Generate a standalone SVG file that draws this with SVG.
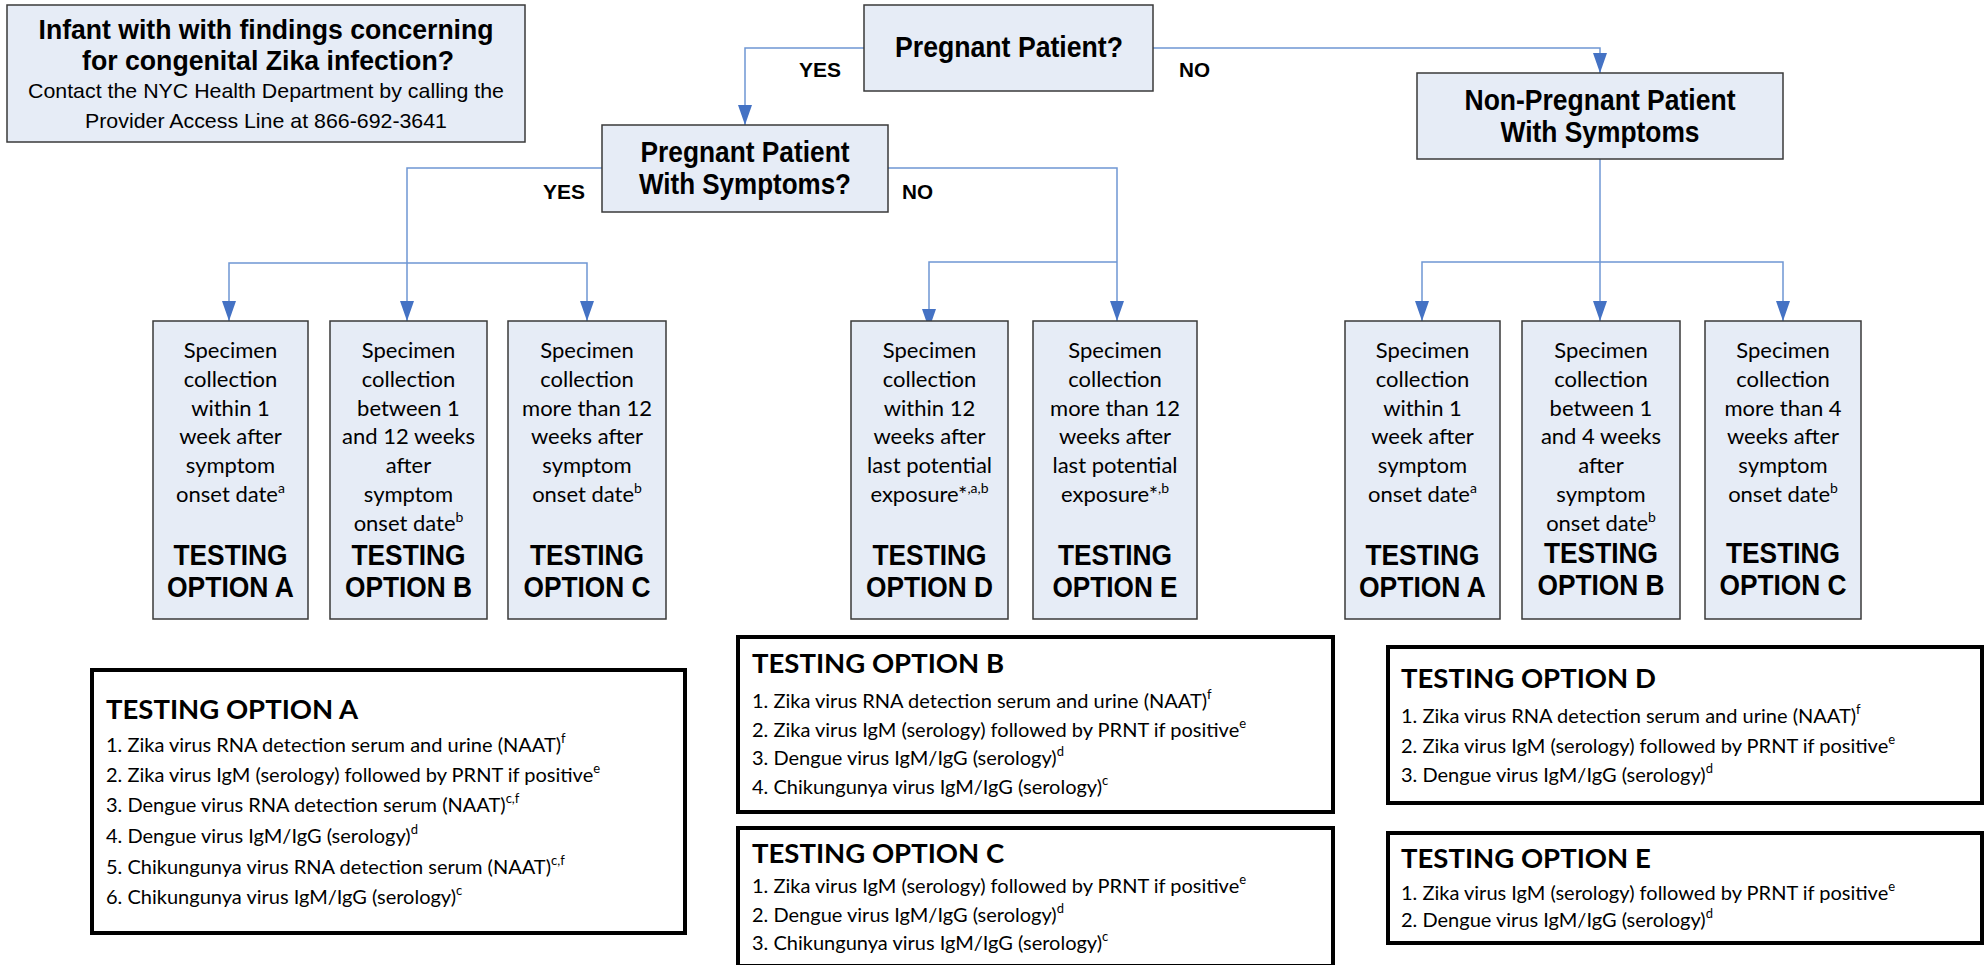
<svg xmlns="http://www.w3.org/2000/svg" width="1986" height="965" viewBox="0 0 1986 965">
<style>
.node{fill:#e6ecf6;stroke:#3a3a3a;stroke-width:1.5}
.list{fill:#ffffff;stroke:#000000;stroke-width:4}
.hb{font-family:"Liberation Sans Narrow","Liberation Sans",Arial,sans-serif;font-weight:bold;fill:#000;text-anchor:middle}
.hn{font-family:"Liberation Sans Narrow","Liberation Sans",Arial,sans-serif;fill:#000;text-anchor:middle}
.lbl{font-family:"Liberation Sans Narrow","Liberation Sans",Arial,sans-serif;font-weight:bold;font-size:21px;fill:#000}
.sp{font-family:Lato,"Open Sans",sans-serif;font-size:22px;fill:#000;text-anchor:middle}
.opt{font-family:"Liberation Sans Narrow","Liberation Sans",Arial,sans-serif;font-weight:bold;font-size:29px;fill:#000;text-anchor:middle}
.lh{font-family:Lato,"Open Sans",sans-serif;font-weight:bold;font-size:27.5px;fill:#000}
.li{font-family:Lato,"Open Sans",sans-serif;font-size:20px;fill:#000}
.conn{fill:none;stroke:#6f97d4;stroke-width:1.5}
</style>
<defs>
<marker id="arr" markerUnits="userSpaceOnUse" markerWidth="20" markerHeight="14" refX="20" refY="7" orient="auto">
<path d="M0,0 L20,7 L0,14 z" fill="#4472c4"/>
</marker>
</defs>

<g id="connectors">
<path class="conn" d="M864,48 H745 V125" marker-end="url(#arr)"/>
<path class="conn" d="M1153,48 H1600 V73" marker-end="url(#arr)"/>
<path class="conn" d="M602,168 H407 V321" marker-end="url(#arr)"/>
<path class="conn" d="M407,263 H229 V321" marker-end="url(#arr)"/>
<path class="conn" d="M407,263 H587 V321" marker-end="url(#arr)"/>
<path class="conn" d="M888,168 H1117 V321" marker-end="url(#arr)"/>
<path class="conn" d="M1117,262 H929 V329" marker-end="url(#arr)"/>
<path class="conn" d="M1600,159 V321" marker-end="url(#arr)"/>
<path class="conn" d="M1600,262 H1422 V321" marker-end="url(#arr)"/>
<path class="conn" d="M1600,262 H1783 V321" marker-end="url(#arr)"/>
</g>

<g id="labels">
<text class="lbl" x="799" y="77" textLength="42" lengthAdjust="spacingAndGlyphs">YES</text>
<text class="lbl" x="1179" y="77" textLength="31" lengthAdjust="spacingAndGlyphs">NO</text>
<text class="lbl" x="543" y="199" textLength="42" lengthAdjust="spacingAndGlyphs">YES</text>
<text class="lbl" x="902" y="199" textLength="31" lengthAdjust="spacingAndGlyphs">NO</text>
</g>

<g id="infant">
<rect class="node" x="7" y="5" width="518" height="137"/>
<text class="hb" x="266" y="39" font-size="28" textLength="455" lengthAdjust="spacingAndGlyphs">Infant with with findings concerning</text>
<text class="hb" x="268" y="70" font-size="28" textLength="372" lengthAdjust="spacingAndGlyphs">for congenital Zika infection?</text>
<text class="hn" x="266" y="98" font-size="21" textLength="476" lengthAdjust="spacingAndGlyphs">Contact the NYC Health Department by calling the</text>
<text class="hn" x="266" y="128" font-size="21" textLength="362" lengthAdjust="spacingAndGlyphs">Provider Access Line at 866-692-3641</text>
</g>

<g id="pregnant">
<rect class="node" x="864" y="5" width="289" height="86"/>
<text class="hb" x="1009" y="57" font-size="30" textLength="228" lengthAdjust="spacingAndGlyphs">Pregnant Patient?</text>
</g>

<g id="pregnant-symptoms">
<rect class="node" x="602" y="125" width="286" height="87"/>
<text class="hb" x="745" y="162" font-size="30" textLength="209" lengthAdjust="spacingAndGlyphs">Pregnant Patient</text>
<text class="hb" x="745" y="194" font-size="30" textLength="212" lengthAdjust="spacingAndGlyphs">With Symptoms?</text>
</g>

<g id="nonpregnant">
<rect class="node" x="1417" y="73" width="366" height="86"/>
<text class="hb" x="1600" y="110" font-size="30" textLength="271" lengthAdjust="spacingAndGlyphs">Non-Pregnant Patient</text>
<text class="hb" x="1600" y="142" font-size="30" textLength="199" lengthAdjust="spacingAndGlyphs">With Symptoms</text>
</g>

<g id="pA">
<rect class="node" x="153" y="321" width="155" height="298"/>
<text class="sp" x="230.5" y="358">Specimen</text>
<text class="sp" x="230.5" y="387">collection</text>
<text class="sp" x="230.5" y="416">within 1</text>
<text class="sp" x="230.5" y="444">week after</text>
<text class="sp" x="230.5" y="473">symptom</text>
<text class="sp" x="230.5" y="502">onset date<tspan font-size="14" dy="-9">a</tspan></text>
<text class="opt" x="230.5" y="565" textLength="114" lengthAdjust="spacingAndGlyphs">TESTING</text>
<text class="opt" x="230.5" y="597" textLength="127" lengthAdjust="spacingAndGlyphs">OPTION A</text>
</g>

<g id="pB">
<rect class="node" x="330" y="321" width="157" height="298"/>
<text class="sp" x="408.5" y="358">Specimen</text>
<text class="sp" x="408.5" y="387">collection</text>
<text class="sp" x="408.5" y="416">between 1</text>
<text class="sp" x="408.5" y="444">and 12 weeks</text>
<text class="sp" x="408.5" y="473">after</text>
<text class="sp" x="408.5" y="502">symptom</text>
<text class="sp" x="408.5" y="531">onset date<tspan font-size="14" dy="-9">b</tspan></text>
<text class="opt" x="408.5" y="565" textLength="114" lengthAdjust="spacingAndGlyphs">TESTING</text>
<text class="opt" x="408.5" y="597" textLength="127" lengthAdjust="spacingAndGlyphs">OPTION B</text>
</g>

<g id="pC">
<rect class="node" x="508" y="321" width="158" height="298"/>
<text class="sp" x="587" y="358">Specimen</text>
<text class="sp" x="587" y="387">collection</text>
<text class="sp" x="587" y="416">more than 12</text>
<text class="sp" x="587" y="444">weeks after</text>
<text class="sp" x="587" y="473">symptom</text>
<text class="sp" x="587" y="502">onset date<tspan font-size="14" dy="-9">b</tspan></text>
<text class="opt" x="587" y="565" textLength="114" lengthAdjust="spacingAndGlyphs">TESTING</text>
<text class="opt" x="587" y="597" textLength="127" lengthAdjust="spacingAndGlyphs">OPTION C</text>
</g>

<g id="pD">
<rect class="node" x="851" y="321" width="157" height="298"/>
<text class="sp" x="929.5" y="358">Specimen</text>
<text class="sp" x="929.5" y="387">collection</text>
<text class="sp" x="929.5" y="416">within 12</text>
<text class="sp" x="929.5" y="444">weeks after</text>
<text class="sp" x="929.5" y="473">last potential</text>
<text class="sp" x="929.5" y="502">exposure*<tspan font-size="14" dy="-9">,a,b</tspan></text>
<text class="opt" x="929.5" y="565" textLength="114" lengthAdjust="spacingAndGlyphs">TESTING</text>
<text class="opt" x="929.5" y="597" textLength="127" lengthAdjust="spacingAndGlyphs">OPTION D</text>
</g>

<g id="pE">
<rect class="node" x="1033" y="321" width="164" height="298"/>
<text class="sp" x="1115" y="358">Specimen</text>
<text class="sp" x="1115" y="387">collection</text>
<text class="sp" x="1115" y="416">more than 12</text>
<text class="sp" x="1115" y="444">weeks after</text>
<text class="sp" x="1115" y="473">last potential</text>
<text class="sp" x="1115" y="502">exposure*<tspan font-size="14" dy="-9">,b</tspan></text>
<text class="opt" x="1115" y="565" textLength="114" lengthAdjust="spacingAndGlyphs">TESTING</text>
<text class="opt" x="1115" y="597" textLength="125" lengthAdjust="spacingAndGlyphs">OPTION E</text>
</g>

<g id="nA">
<rect class="node" x="1345" y="321" width="155" height="298"/>
<text class="sp" x="1422.5" y="358">Specimen</text>
<text class="sp" x="1422.5" y="387">collection</text>
<text class="sp" x="1422.5" y="416">within 1</text>
<text class="sp" x="1422.5" y="444">week after</text>
<text class="sp" x="1422.5" y="473">symptom</text>
<text class="sp" x="1422.5" y="502">onset date<tspan font-size="14" dy="-9">a</tspan></text>
<text class="opt" x="1422.5" y="565" textLength="114" lengthAdjust="spacingAndGlyphs">TESTING</text>
<text class="opt" x="1422.5" y="597" textLength="127" lengthAdjust="spacingAndGlyphs">OPTION A</text>
</g>

<g id="nB">
<rect class="node" x="1522" y="321" width="158" height="298"/>
<text class="sp" x="1601" y="358">Specimen</text>
<text class="sp" x="1601" y="387">collection</text>
<text class="sp" x="1601" y="416">between 1</text>
<text class="sp" x="1601" y="444">and 4 weeks</text>
<text class="sp" x="1601" y="473">after</text>
<text class="sp" x="1601" y="502">symptom</text>
<text class="sp" x="1601" y="531">onset date<tspan font-size="14" dy="-9">b</tspan></text>
<text class="opt" x="1601" y="563" textLength="114" lengthAdjust="spacingAndGlyphs">TESTING</text>
<text class="opt" x="1601" y="595" textLength="127" lengthAdjust="spacingAndGlyphs">OPTION B</text>
</g>

<g id="nC">
<rect class="node" x="1705" y="321" width="156" height="298"/>
<text class="sp" x="1783" y="358">Specimen</text>
<text class="sp" x="1783" y="387">collection</text>
<text class="sp" x="1783" y="416">more than 4</text>
<text class="sp" x="1783" y="444">weeks after</text>
<text class="sp" x="1783" y="473">symptom</text>
<text class="sp" x="1783" y="502">onset date<tspan font-size="14" dy="-9">b</tspan></text>
<text class="opt" x="1783" y="563" textLength="114" lengthAdjust="spacingAndGlyphs">TESTING</text>
<text class="opt" x="1783" y="595" textLength="127" lengthAdjust="spacingAndGlyphs">OPTION C</text>
</g>

<g id="listA">
<rect class="list" x="92" y="670" width="593" height="263"/>
<text class="lh" x="106" y="719">TESTING OPTION A</text>
<text class="li" x="106" y="752">1. Zika virus RNA detection serum and urine (NAAT)<tspan font-size="13" dy="-9">f</tspan></text>
<text class="li" x="106" y="782">2. Zika virus IgM (serology) followed by PRNT if positive<tspan font-size="13" dy="-9">e</tspan></text>
<text class="li" x="106" y="812">3. Dengue virus RNA detection serum (NAAT)<tspan font-size="13" dy="-9">c,f</tspan></text>
<text class="li" x="106" y="843">4. Dengue virus IgM/IgG (serology)<tspan font-size="13" dy="-9">d</tspan></text>
<text class="li" x="106" y="874">5. Chikungunya virus RNA detection serum (NAAT)<tspan font-size="13" dy="-9">c,f</tspan></text>
<text class="li" x="106" y="904">6. Chikungunya virus IgM/IgG (serology)<tspan font-size="13" dy="-9">c</tspan></text>
</g>

<g id="listB">
<rect class="list" x="738" y="637" width="595" height="175"/>
<text class="lh" x="752" y="673">TESTING OPTION B</text>
<text class="li" x="752" y="708">1. Zika virus RNA detection serum and urine (NAAT)<tspan font-size="13" dy="-9">f</tspan></text>
<text class="li" x="752" y="737">2. Zika virus IgM (serology) followed by PRNT if positive<tspan font-size="13" dy="-9">e</tspan></text>
<text class="li" x="752" y="765">3. Dengue virus IgM/IgG (serology)<tspan font-size="13" dy="-9">d</tspan></text>
<text class="li" x="752" y="794">4. Chikungunya virus IgM/IgG (serology)<tspan font-size="13" dy="-9">c</tspan></text>
</g>

<g id="listC">
<rect class="list" x="738" y="828" width="595" height="138"/>
<text class="lh" x="752" y="863">TESTING OPTION C</text>
<text class="li" x="752" y="893">1. Zika virus IgM (serology) followed by PRNT if positive<tspan font-size="13" dy="-9">e</tspan></text>
<text class="li" x="752" y="922">2. Dengue virus IgM/IgG (serology)<tspan font-size="13" dy="-9">d</tspan></text>
<text class="li" x="752" y="950">3. Chikungunya virus IgM/IgG (serology)<tspan font-size="13" dy="-9">c</tspan></text>
</g>

<g id="listD">
<rect class="list" x="1388" y="647" width="594" height="156"/>
<text class="lh" x="1401" y="688">TESTING OPTION D</text>
<text class="li" x="1401" y="723">1. Zika virus RNA detection serum and urine (NAAT)<tspan font-size="13" dy="-9">f</tspan></text>
<text class="li" x="1401" y="753">2. Zika virus IgM (serology) followed by PRNT if positive<tspan font-size="13" dy="-9">e</tspan></text>
<text class="li" x="1401" y="782">3. Dengue virus IgM/IgG (serology)<tspan font-size="13" dy="-9">d</tspan></text>
</g>

<g id="listE">
<rect class="list" x="1388" y="833" width="594" height="110"/>
<text class="lh" x="1401" y="868">TESTING OPTION E</text>
<text class="li" x="1401" y="900">1. Zika virus IgM (serology) followed by PRNT if positive<tspan font-size="13" dy="-9">e</tspan></text>
<text class="li" x="1401" y="927">2. Dengue virus IgM/IgG (serology)<tspan font-size="13" dy="-9">d</tspan></text>
</g>
</svg>
